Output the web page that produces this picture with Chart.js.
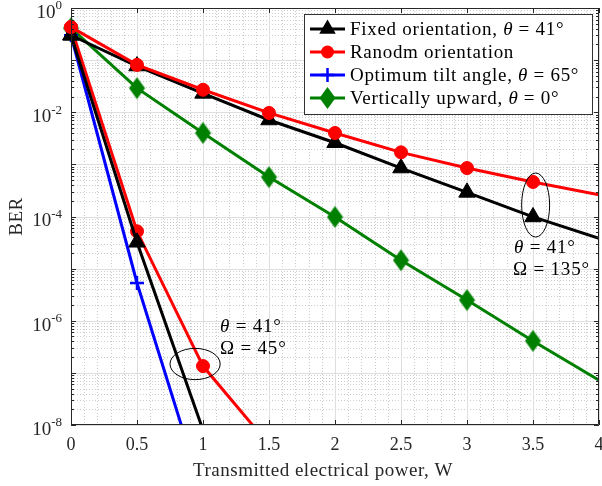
<!DOCTYPE html>
<html>
<head>
<meta charset="utf-8">
<script src="https://cdn.jsdelivr.net/npm/chart.js@4.4.1/dist/chart.umd.min.js"></script>
<style>
  html, body { margin: 0; padding: 0; background: #fff; }
  #wrap { width: 602px; height: 486px; position: relative; }
</style>
</head>
<body>
<div id="wrap"><canvas id="berChart"></canvas></div>
<script>
// values
const powerW = [0, 0.5, 1, 1.5, 2, 2.5, 3, 3.5, 4];
const fixed135 = [0.30, 0.077, 0.023, 0.0071, 0.0026, 8.5e-4, 2.9e-4, 9.8e-5, 3.8e-5];
const random135 = [0.43, 0.081, 0.027, 0.0097, 0.0040, 1.7e-3, 8.5e-4, 4.6e-4, 2.6e-4];
const fixed45 = [0.30, 3.2e-5, 8e-9];
const random45 = [0.43, 5.2e-5, 1.35e-7, 4.2e-9];
const optimum65 = [0.30, 5.3e-6, 4.6e-10];
const vertical0 = [0.41, 0.029, 0.004, 5.7e-4, 9.8e-5, 1.45e-5, 2.5e-6, 4.1e-7, 7.2e-8];

const xTicks = [0, 0.5, 1, 1.5, 2, 2.5, 3, 3.5, 4];
const yExponents = [0, -1, -2, -3, -4, -5, -6, -7, -8];
const yLabelExponents = [0, -2, -4, -6, -8];

const legendNames = [
  ['Fixed orientation, ', '41'],
  ['Ranodm orientation', null],
  ['Optimum tilt angle, ', '65'],
  ['Vertically upward, ', '0']
];

const SERIF = '"Liberation Serif", "Times New Roman", serif';
const AXIS = '#262626';

// MATLAB style diamond (taller than wide)
function diamondImage(color) {
  const c = document.createElement('canvas');
  c.width = 17; c.height = 23;
  const g = c.getContext('2d');
  g.fillStyle = color;
  g.beginPath();
  g.moveTo(8.5, 0.5); g.lineTo(16.5, 11.5); g.lineTo(8.5, 22.5); g.lineTo(0.5, 11.5);
  g.closePath();
  g.fill();
  return c;
}

function pts(ys) {
  return ys.map((y, i) => ({ x: powerW[i], y: y }));
}

function series(ys, color, style, radius) {
  return {
    data: pts(ys),
    borderColor: color,
    backgroundColor: color,
    borderWidth: 3,
    pointStyle: style,
    // no marker below the axis or on the right edge
    pointRadius: c => (c.raw && (c.raw.y < 1e-8 || c.raw.x >= 4)) ? 0 : radius,
    pointBorderWidth: style === 'cross' ? 2.5 : 1,
    pointBorderColor: color,
    pointBackgroundColor: color,
    tension: 0,
    clip: { left: 12, top: 12, right: 0, bottom: 0 }
  };
}

// math-ish text: normal text, italic symbol, normal rest
function drawMath(ctx, x, y, parts, size, spacing) {
  let cx = x;
  ctx.letterSpacing = (spacing || 0) + 'px';
  parts.forEach(p => {
    ctx.font = (p.it ? 'italic ' : '') + size + 'px ' + SERIF;
    ctx.fillText(p.t, cx, y);
    cx += ctx.measureText(p.t).width;
  });
  ctx.letterSpacing = '0px';
}

function drawMarker(ctx, style, x, y, r, color) {
  ctx.save();
  ctx.fillStyle = color;
  ctx.strokeStyle = color;
  ctx.beginPath();
  if (style === 'triangle') {
    ctx.moveTo(x, y - r);
    ctx.lineTo(x + r * 0.87, y + r * 0.5);
    ctx.lineTo(x - r * 0.87, y + r * 0.5);
    ctx.closePath();
    ctx.fill();
  } else if (style === 'circle') {
    ctx.arc(x, y, r, 0, Math.PI * 2);
    ctx.fill();
  } else if (style === 'diamond') {
    ctx.moveTo(x, y - 11);
    ctx.lineTo(x + 8, y);
    ctx.lineTo(x, y + 11);
    ctx.lineTo(x - 8, y);
    ctx.closePath();
    ctx.fill();
  } else {
    ctx.lineWidth = 2.5;
    ctx.moveTo(x - r, y); ctx.lineTo(x + r, y);
    ctx.moveTo(x, y - r); ctx.lineTo(x, y + r);
    ctx.stroke();
  }
  ctx.restore();
}

const matlabAxes = {
  id: 'matlabAxes',
  beforeDatasetsDraw(chart) {
    const { ctx, chartArea: a, scales: { x, y } } = chart;
    ctx.save();
    // minor grid (dotted)
    ctx.strokeStyle = '#cccccc';
    ctx.lineWidth = 1;
    ctx.setLineDash([1, 2]);
    ctx.beginPath();
    for (let v = 0.1; v < 4; v += 0.1) {
      if (Math.abs(v * 2 - Math.round(v * 2)) < 1e-6) continue;
      const px = Math.round(x.getPixelForValue(v)) + 0.5;
      ctx.moveTo(px, a.top); ctx.lineTo(px, a.bottom);
    }
    yExponents.forEach(e => {
      if (e === 0) return;
      for (let m = 2; m <= 9; m++) {
        const py = Math.round(y.getPixelForValue(m * Math.pow(10, e))) + 0.5;
        ctx.moveTo(a.left, py); ctx.lineTo(a.right, py);
      }
    });
    ctx.stroke();
    // major grid
    ctx.setLineDash([]);
    ctx.strokeStyle = '#dedede';
    ctx.beginPath();
    xTicks.forEach(v => {
      const px = Math.round(x.getPixelForValue(v)) + 0.5;
      ctx.moveTo(px, a.top); ctx.lineTo(px, a.bottom);
    });
    yExponents.forEach(e => {
      const py = Math.round(y.getPixelForValue(Math.pow(10, e))) + 0.5;
      ctx.moveTo(a.left, py); ctx.lineTo(a.right, py);
    });
    ctx.stroke();
    ctx.restore();
  },
  afterDraw(chart) {
    const { ctx, chartArea: a, scales: { x, y } } = chart;
    ctx.save();
    // box and ticks
    ctx.strokeStyle = AXIS;
    ctx.lineWidth = 1;
    ctx.beginPath();
    ctx.rect(a.left + 0.5, a.top + 0.5, a.right - a.left - 1, a.bottom - a.top - 1);
    xTicks.forEach(v => {
      const px = Math.round(x.getPixelForValue(v)) + 0.5;
      ctx.moveTo(px, a.bottom); ctx.lineTo(px, a.bottom - 5);
      ctx.moveTo(px, a.top); ctx.lineTo(px, a.top + 5);
    });
    yExponents.forEach(e => {
      for (let m = 1; m <= 9; m++) {
        if (e === 0 && m > 1) break;
        const py = Math.round(y.getPixelForValue(m * Math.pow(10, e))) + 0.5;
        const len = m === 1 ? 5 : 3;
        ctx.moveTo(a.left, py); ctx.lineTo(a.left + len, py);
        ctx.moveTo(a.right, py); ctx.lineTo(a.right - len, py);
      }
    });
    ctx.stroke();

    // tick labels
    ctx.fillStyle = AXIS;
    ctx.textBaseline = 'middle';
    ctx.textAlign = 'center';
    ctx.font = '18px ' + SERIF;
    xTicks.forEach(v => {
      ctx.fillText(String(v), x.getPixelForValue(v), a.bottom + 20);
    });
    yLabelExponents.forEach(e => {
      const py = y.getPixelForValue(Math.pow(10, e));
      const sup = e === 0 ? '0' : '-' + Math.abs(e);
      ctx.textAlign = 'right';
      ctx.font = '13px ' + SERIF;
      const sw = ctx.measureText(sup).width;
      ctx.fillText(sup, a.left - 9, py - 2);
      ctx.font = '19px ' + SERIF;
      ctx.fillText('10', a.left - 9 - sw, py + 5);
    });

    // axis titles
    ctx.textAlign = 'center';
    ctx.font = '19px ' + SERIF;
    ctx.letterSpacing = '0.5px';
    ctx.fillText('Transmitted electrical power, W', (a.left + a.right) / 2 - 12, a.bottom + 46);
    ctx.save();
    ctx.translate(17, (a.top + a.bottom) / 2);
    ctx.rotate(-Math.PI / 2);
    ctx.fillText('BER', 0, 0);
    ctx.restore();
    ctx.letterSpacing = '0px';

    // ellipses marking the two groups
    ctx.strokeStyle = '#000';
    ctx.lineWidth = 1;
    [[3.52, -3.78, 0.106, 0.614], [0.94, -6.83, 0.19, 0.30]].forEach(el => {
      const cx = x.getPixelForValue(el[0]);
      const cy = y.getPixelForValue(Math.pow(10, el[1]));
      const rx = x.getPixelForValue(el[0] + el[2]) - cx;
      const ry = y.getPixelForValue(Math.pow(10, el[1] - el[3])) - cy;
      ctx.beginPath();
      ctx.ellipse(cx, cy, rx, ry, 0, 0, Math.PI * 2);
      ctx.stroke();
    });

    // annotation text
    ctx.fillStyle = '#000';
    ctx.textAlign = 'left';
    drawMath(ctx, 514, 248, [{ t: 'θ', it: true }, { t: ' = 41°' }], 19, 0.8);
    drawMath(ctx, 513, 270, [{ t: 'Ω = 135°' }], 19, 0.8);
    drawMath(ctx, 220, 327, [{ t: 'θ', it: true }, { t: ' = 41°' }], 19, 0.8);
    drawMath(ctx, 220, 349, [{ t: 'Ω = 45°' }], 19, 0.8);

    // legend
    const lx = 304.5, ly = 14.5, lw = 288, lh = 100;
    ctx.fillStyle = '#fff';
    ctx.fillRect(lx, ly, lw, lh);
    ctx.strokeStyle = '#333';
    ctx.strokeRect(lx, ly, lw, lh);
    const styles = [['#000000', 'triangle', 9.5], ['#ff0000', 'circle', 6.5], ['#0000ff', 'cross', 7], ['#008000', 'diamond', 8]];
    legendNames.forEach((n, i) => {
      const ry = 29 + i * 23;
      const st = styles[i];
      ctx.strokeStyle = st[0];
      ctx.lineWidth = 3;
      ctx.beginPath();
      ctx.moveTo(310, ry); ctx.lineTo(345, ry);
      ctx.stroke();
      drawMarker(ctx, st[1], 327.5, ry, st[2], st[0]);
      ctx.fillStyle = '#000';
      ctx.textAlign = 'left';
      const parts = [{ t: n[0] }];
      if (n[1] !== null) parts.push({ t: 'θ', it: true }, { t: ' = ' + n[1] + '°' });
      drawMath(ctx, 350, ry + 1, parts, 19, 0.7);
    });
    ctx.restore();
  }
};

new Chart(document.getElementById('berChart').getContext('2d'), {
  type: 'line',
  data: {
    // first dataset is drawn on top
    datasets: [
      series(random135, '#ff0000', 'circle', 6.5),
      series(fixed135, '#000000', 'triangle', 9.5),
      series(fixed45, '#000000', 'triangle', 9.5),
      series(random45, '#ff0000', 'circle', 6.5),
      series(optimum65, '#0000ff', 'cross', 7),
      series(vertical0, '#008000', diamondImage('#008000'), 11)
    ]
  },
  options: {
    responsive: true,
    maintainAspectRatio: false,
    animation: false,
    layout: { autoPadding: false, padding: { left: 71, top: 8, right: 3, bottom: 61 } },
    scales: {
      x: { type: 'linear', min: 0, max: 4, display: false },
      y: { type: 'logarithmic', min: 1e-8, max: 1, display: false }
    },
    plugins: {
      legend: { display: false },
      tooltip: { enabled: false }
    }
  },
  plugins: [matlabAxes]
});
</script>
</body>
</html>
